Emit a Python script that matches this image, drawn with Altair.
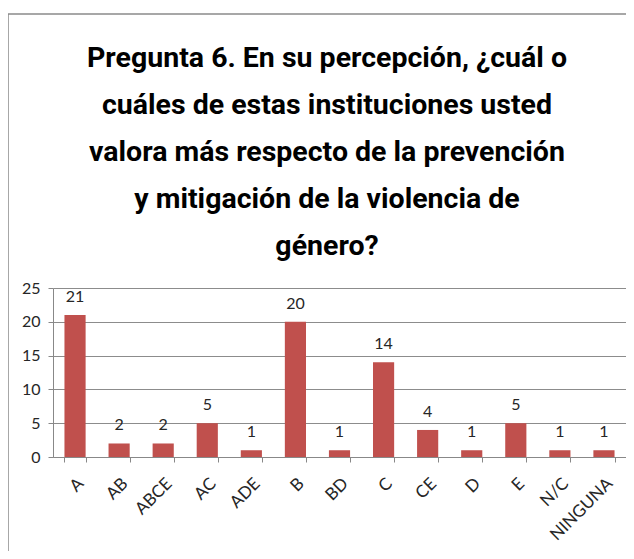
import altair as alt
import pandas as pd

categories = ["A", "AB", "ABCE", "AC", "ADE", "B", "BD", "C", "CE", "D", "E", "N/C", "NINGUNA"]
counts = [21, 2, 2, 5, 1, 20, 1, 14, 4, 1, 5, 1, 1]
y_ticks = [0, 5, 10, 15, 20, 25]
title_lines = [
    "Pregunta 6. En su percepción, ¿cuál o",
    "cuáles de estas instituciones usted",
    "valora más respecto de la prevención",
    "y mitigación de la violencia de",
    "género?",
]

df = pd.DataFrame({"cat": categories, "n": counts})

LABEL_FONT = "Lato"
TITLE_FONT = "Roboto"

base = alt.Chart(df)

x_enc = alt.X(
    "cat:N",
    sort=categories,
    scale=alt.Scale(paddingInner=0.52, paddingOuter=0.26),
    axis=alt.Axis(
        title=None,
        labelAngle=-45,
        labelFontSize=17,
        labelFont=LABEL_FONT,
        labelColor="#262626",
        tickBand="extent",
        tickSize=5,
        tickColor="#888888",
        domainColor="#888888",
        labelPadding=13,
    ),
)

y_enc = alt.Y(
    "n:Q",
    scale=alt.Scale(domain=[0, 25]),
    axis=alt.Axis(
        title=None,
        values=y_ticks,
        labelOverlap=False,
        labelFontSize=16,
        labelFont=LABEL_FONT,
        labelColor="#262626",
        tickSize=5,
        tickColor="#888888",
        domainColor="#888888",
        gridColor="#8c8c8c",
        labelPadding=8,
    ),
)

bars = base.mark_bar(color="#C0504D").encode(x=x_enc, y=y_enc)

labels = base.mark_text(
    baseline="bottom", dy=-10, fontSize=16, font=LABEL_FONT, color="#262626"
).encode(x=x_enc, y=y_enc, text="n:Q")

one = alt.Data(values=[{"k": 1}])

border = alt.Chart(one).mark_rect(
    fill=None, stroke="#8a8a8a", strokeWidth=1.5
).encode(
    x=alt.value(-45), x2=alt.value(800), y=alt.value(-274), y2=alt.value(600)
)

title = alt.Chart(one).mark_text(
    text=title_lines,
    font=TITLE_FONT,
    fontSize=28.5,
    fontWeight="bold",
    color="#000000",
    lineHeight=47,
    align="center",
    baseline="alphabetic",
).encode(x=alt.value(274), y=alt.value(-221))

chart = alt.layer(border, title, bars, labels).properties(
    width=573,
    height=169,
    autosize=alt.AutoSizeParams(type="none"),
    padding={"left": 45, "top": 280, "right": 0, "bottom": 94},
).configure_view(stroke=None)

chart.save("out.html", embed_options={"renderer": "svg", "actions": False})
